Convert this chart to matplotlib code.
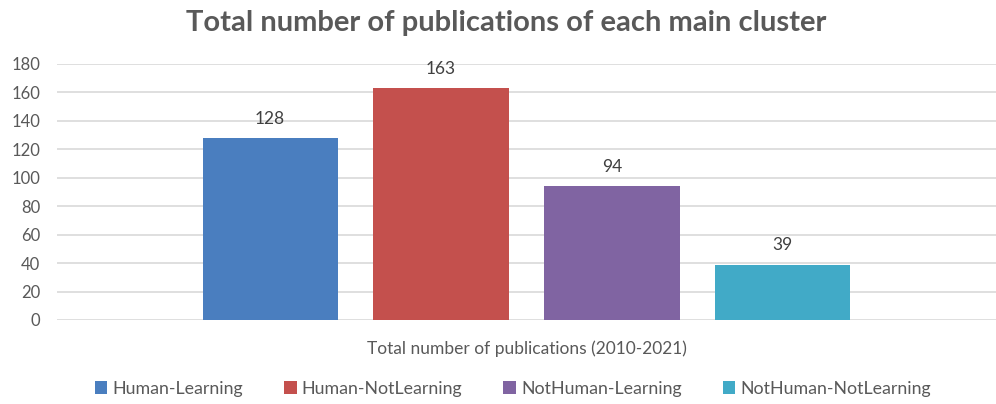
import numpy as np
from matplotlib import pyplot as plt

# datos
clusters = ['Human-Learning', 'Human-NotLearning', 'NotHuman-Learning', 'NotHuman-NotLearning']
publicaciones = [128, 163, 94, 39]
categoria = ['Total number of publications (2010-2021)']
colores = ['#4a7ebf', '#c4504d', '#8064a2', '#41aac7']

plt.rcParams['font.family'] = ['Lato', 'DejaVu Sans']
gris = '#595959'

fig = plt.figure(figsize=(9.96, 4.04), dpi=100)
ax = fig.add_axes([57/996, 1 - 320/404, 939/996, 256/404])

n = len(clusters)
ancho = 0.144
paso = 0.182
x = np.arange(len(categoria))
for i in range(n):
    pos = x + (i - (n - 1)/2) * paso
    barras = ax.bar(pos, [publicaciones[i]], width=ancho, color=colores[i],
                    label=clusters[i], zorder=3)
    ax.bar_label(barras, padding=8, fontsize=12.5, color='#404040')

ax.set_xlim(-0.5, 0.5)
ax.set_ylim(0, 180)
ax.set_yticks(np.arange(0, 181, 20))
ax.set_xticks(x)
ax.set_xticklabels(categoria, fontsize=12.5, color=gris)
ax.tick_params(axis='x', length=0, pad=15)
ax.tick_params(axis='y', length=0, labelsize=12, labelcolor=gris, pad=12)
ax.grid(axis='y', color='#d9d9d9', linewidth=1.2, zorder=0)
for s in ax.spines.values():
    s.set_visible(False)

fig.suptitle('Total number of publications of each main cluster', x=0.508, y=0.975,
             fontsize=21, fontweight='bold', color=gris)
fig.legend(loc='lower center', bbox_to_anchor=(0.515, -0.022), ncol=4, frameon=False,
           fontsize=12.8, labelcolor=gris, handlelength=0.7, handleheight=0.7,
           handletextpad=0.3, columnspacing=2.3)

plt.savefig('out.png', dpi=100)
